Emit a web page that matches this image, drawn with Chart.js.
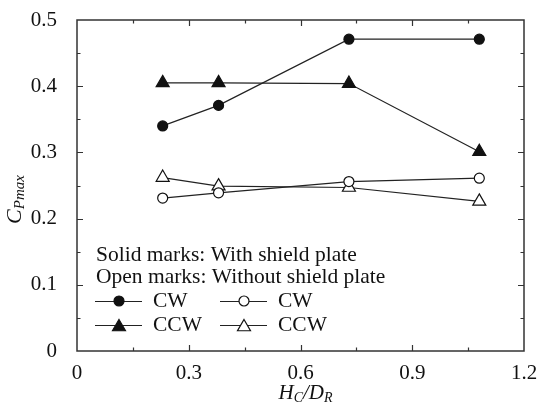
<!DOCTYPE html>
<html>
<head>
<meta charset="utf-8">
<script src="https://cdn.jsdelivr.net/npm/chart.js@4/dist/chart.umd.min.js"></script>
<style>
  html, body { margin: 0; padding: 0; background: #fff; }
  #wrap { width: 547px; height: 412px; position: relative; }
</style>
</head>
<body>
<div id="wrap"><canvas id="c"></canvas></div>
<script>
// H_C/D_R positions
var ratioX = [0.23, 0.38, 0.73, 1.08];
// Cpmax values
var cwShield = [0.340, 0.371, 0.471, 0.471];
var ccwShield = [0.405, 0.405, 0.404, 0.301];
var cwOpen = [0.231, 0.239, 0.256, 0.261];
var ccwOpen = [0.262, 0.249, 0.247, 0.226];

var SERIF = '"Liberation Serif", "DejaVu Serif", serif';
var INK = '#111';

function pts(ys) {
  return ys.map(function(y, i) { return { x: ratioX[i], y: y }; });
}

function series(label, ys, shape, filled) {
  return {
    label: label,
    data: pts(ys),
    borderColor: '#222',
    borderWidth: 1.2,
    pointStyle: shape,
    pointRadius: shape === 'triangle' ? 7.5 : 5,
    pointBorderWidth: 1.2,
    pointBorderColor: INK,
    pointBackgroundColor: filled ? INK : '#fff',
    tension: 0,
    fill: false
  };
}

// inward ticks on all four sides + frame
var framePlugin = {
  id: 'frame',
  afterDatasetsDraw: function(chart) {
    var ctx = chart.ctx, a = chart.chartArea;
    var xs = chart.scales.x, ys = chart.scales.y;
    ctx.save();
    ctx.strokeStyle = '#333';
    ctx.lineWidth = 1.5;
    ctx.strokeRect(a.left, a.top, a.right - a.left, a.bottom - a.top);
    ctx.lineWidth = 1.2;
    ctx.beginPath();
    var i, v, p, len;
    for (i = 1; i < 8; i++) {
      v = i * 0.15;
      p = Math.round(xs.getPixelForValue(v)) + 0.5;
      len = (i % 2 === 0) ? 6 : 3.5;
      ctx.moveTo(p, a.bottom); ctx.lineTo(p, a.bottom - len);
      ctx.moveTo(p, a.top); ctx.lineTo(p, a.top + len);
    }
    for (i = 1; i < 10; i++) {
      v = i * 0.05;
      p = Math.round(ys.getPixelForValue(v)) + 0.5;
      len = (i % 2 === 0) ? 6 : 3.5;
      ctx.moveTo(a.left, p); ctx.lineTo(a.left + len, p);
      ctx.moveTo(a.right, p); ctx.lineTo(a.right - len, p);
    }
    ctx.stroke();
    ctx.restore();
  }
};

// axis titles with subscripts
function drawSub(ctx, parts, x, y, align) {
  var total = 0, i;
  parts.forEach(function(pt) {
    ctx.font = 'italic ' + pt.size + 'px ' + SERIF;
    pt.w = ctx.measureText(pt.t).width;
    total += pt.w;
  });
  var cx = align === 'center' ? x - total / 2 : x;
  for (i = 0; i < parts.length; i++) {
    ctx.font = 'italic ' + parts[i].size + 'px ' + SERIF;
    ctx.fillText(parts[i].t, cx, y + (parts[i].dy || 0));
    cx += parts[i].w;
  }
}

var titlePlugin = {
  id: 'titles',
  afterDraw: function(chart) {
    var ctx = chart.ctx, a = chart.chartArea;
    ctx.save();
    ctx.fillStyle = INK;
    ctx.textBaseline = 'alphabetic';
    ctx.textAlign = 'left';
    drawSub(ctx, [
      { t: 'H', size: 21 }, { t: 'C', size: 14, dy: 3 },
      { t: '/', size: 21 }, { t: 'D', size: 21 }, { t: 'R', size: 14, dy: 3 }
    ], (a.left + a.right) / 2 + 5, 399, 'center');
    ctx.translate(21, (a.top + a.bottom) / 2 + 14);
    ctx.rotate(-Math.PI / 2);
    drawSub(ctx, [
      { t: 'C', size: 22 }, { t: 'Pmax', size: 15, dy: 3 }
    ], 0, 0, 'center');
    ctx.restore();
  }
};

// legend drawn inside the plot area
var legendPlugin = {
  id: 'inLegend',
  afterDraw: function(chart) {
    var ctx = chart.ctx;
    var ds = chart.data.datasets;
    ctx.save();
    ctx.fillStyle = INK;
    ctx.font = '21.5px ' + SERIF;
    ctx.textBaseline = 'middle';
    ctx.textAlign = 'left';
    ctx.fillText('Solid marks: With shield plate', 96, 255);
    ctx.fillText('Open marks: Without shield plate', 96, 277);
    var cells = [
      { d: 0, x: 95, y: 301 }, { d: 2, x: 220, y: 301 },
      { d: 1, x: 95, y: 325 }, { d: 3, x: 220, y: 325 }
    ];
    cells.forEach(function(c) {
      var s = ds[c.d];
      ctx.strokeStyle = '#222';
      ctx.lineWidth = 1.2;
      ctx.beginPath();
      ctx.moveTo(c.x, c.y + 0.5); ctx.lineTo(c.x + 47, c.y + 0.5);
      ctx.stroke();
      ctx.fillStyle = s.pointBackgroundColor;
      ctx.strokeStyle = INK;
      Chart.helpers.drawPoint(ctx, {
        pointStyle: s.pointStyle, radius: s.pointRadius,
        borderWidth: s.pointBorderWidth, rotation: 0
      }, c.x + 24, c.y + (s.pointStyle === 'triangle' ? 2 : 0));
      ctx.fillStyle = INK;
      ctx.fillText(s.label, c.x + 58, c.y);
    });
    ctx.restore();
  }
};

new Chart(document.getElementById('c'), {
  type: 'line',
  data: {
    datasets: [
      series('CW', cwShield, 'circle', true),
      series('CCW', ccwShield, 'triangle', true),
      series('CW', cwOpen, 'circle', false),
      series('CCW', ccwOpen, 'triangle', false)
    ]
  },
  options: {
    responsive: true,
    maintainAspectRatio: false,
    animation: false,
    layout: { padding: { left: 0, right: 23, top: 20, bottom: 0 } },
    plugins: { legend: { display: false }, tooltip: { enabled: false } },
    scales: {
      x: {
        type: 'linear', min: 0, max: 1.2,
        grid: { display: false }, border: { display: false },
        afterFit: function(s) { s.height = 61; s.paddingLeft = 0; s.paddingRight = 0; },
        ticks: {
          stepSize: 0.3, padding: 2, color: INK,
          font: { family: SERIF, size: 21 },
          callback: function(v) { return Math.abs(v) < 1e-9 ? '0' : v.toFixed(1); }
        }
      },
      y: {
        min: 0, max: 0.5,
        grid: { display: false }, border: { display: false },
        afterFit: function(s) { s.width = 77; s.paddingTop = 0; s.paddingBottom = 0; },
        ticks: {
          stepSize: 0.1, padding: 12, color: INK,
          font: { family: SERIF, size: 21 },
          callback: function(v) { return Math.abs(v) < 1e-9 ? '0' : v.toFixed(1); }
        }
      }
    }
  },
  plugins: [framePlugin, titlePlugin, legendPlugin]
});
</script>
</body>
</html>
